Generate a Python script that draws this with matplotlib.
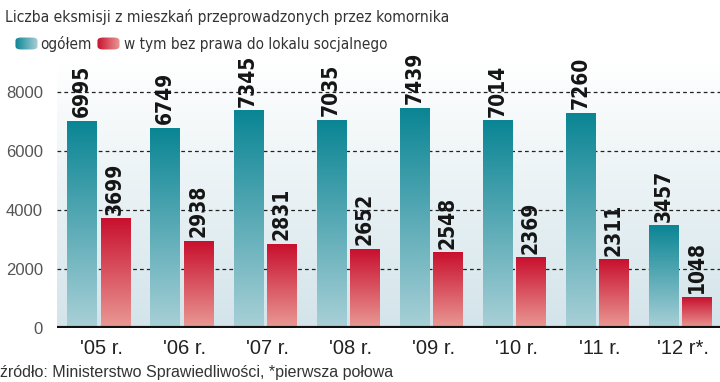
import numpy as np
import matplotlib.pyplot as plt
from matplotlib.patches import FancyBboxPatch
from matplotlib.colors import LinearSegmentedColormap

# Liczba eksmisji z mieszkań przeprowadzonych przez komornika
years = ["'05 r.", "'06 r.", "'07 r.", "'08 r.", "'09 r.", "'10 r.", "'11 r.", "'12 r*."]
ogolem = [6995, 6749, 7345, 7035, 7439, 7014, 7260, 3457]
bez_prawa = [3699, 2938, 2831, 2652, 2548, 2369, 2311, 1048]
yticks = [0, 2000, 4000, 6000, 8000]

teal_cmap = LinearSegmentedColormap.from_list("teal", ["#a9d0d7", "#0a8594"])
red_cmap = LinearSegmentedColormap.from_list("red", ["#ea9a95", "#c8102e"])
bg_cmap = LinearSegmentedColormap.from_list("bg", ["#d3e4ea", "#ffffff"])

plt.rcParams['font.family'] = ['Liberation Sans', 'DejaVu Sans']

fig = plt.figure(figsize=(7.2, 3.82), dpi=100)
ax = fig.add_axes([57 / 720, 1 - 328 / 382, 663 / 720, 266 / 382])

x = np.arange(len(years))
w = 0.35
ymax = 9000

# background gradient
grad = np.linspace(0, 1, 256).reshape(-1, 1)
ax.imshow(grad, extent=[-0.5, 7.48, 0, ymax], origin='lower', cmap=bg_cmap,
          aspect='auto', zorder=0)

bars1 = ax.bar(x - 0.2, ogolem, w, color='none', zorder=2)
bars2 = ax.bar(x + 0.2, bez_prawa, w, color='none', zorder=2)

for bars, cmap in [(bars1, teal_cmap), (bars2, red_cmap)]:
    for b in bars:
        x0, h = b.get_x(), b.get_height()
        ax.imshow(grad, extent=[x0, x0 + b.get_width(), 0, h], origin='lower',
                  cmap=cmap, aspect='auto', zorder=2)
        ax.annotate(f"{int(h)}", (x0 + b.get_width() / 2, h), xytext=(0, 3),
                    textcoords='offset points', rotation=90, ha='center',
                    va='bottom', fontsize=15, fontweight='bold', color='#151515',
                    family=['DejaVu Sans'], fontstretch='condensed')

for yv in yticks[1:]:
    ax.axhline(yv, color='#222222', lw=0.9, ls=(0, (3, 2.5)), zorder=1)
ax.axhline(0, color='#111111', lw=3, zorder=3)

ax.set_xlim(-0.5, 7.48)
ax.set_ylim(0, ymax)
ax.set_yticks(yticks)
ax.set_yticklabels([str(v) for v in yticks], fontsize=12, color='#555555')
ax.set_xticks(x + 0.03)
ax.set_xticklabels(years, fontsize=14.5, color='#222222')
ax.tick_params(length=0)
ax.tick_params(axis='y', pad=10)
ax.tick_params(axis='x', pad=8)
for s in ax.spines.values():
    s.set_visible(False)

cond = dict(family=['DejaVu Sans'], fontstretch='condensed', color='#333333', va='center')
fig.text(5 / 720, 1 - 17 / 382, "Liczba eksmisji z mieszkań przeprowadzonych przez komornika",
         fontsize=11.2, **cond)

# legend with gradient swatches
hgrad = np.linspace(0, 1, 256).reshape(1, -1)
for (sx, cmap) in [(15, teal_cmap.reversed()), (97, red_cmap.reversed())]:
    sax = fig.add_axes([sx / 720, 1 - 50 / 382, 23 / 720, 13 / 382])
    sax.set_xlim(0, 1)
    sax.set_ylim(0, 1)
    sax.axis('off')
    box = FancyBboxPatch((0.02, 0.04), 0.96, 0.92, boxstyle="round,pad=0,rounding_size=0.25",
                         transform=sax.transAxes, facecolor='none', edgecolor='none')
    sax.add_patch(box)
    im = sax.imshow(hgrad, extent=[0, 1, 0, 1], cmap=cmap, aspect='auto')
    im.set_clip_path(box)

fig.text(40 / 720, 1 - 44 / 382, "ogółem", fontsize=11, **cond)
fig.text(124 / 720, 1 - 44 / 382, "w tym bez prawa do lokalu socjalnego", fontsize=11, **cond)

fig.text(0, 1 - 372 / 382, "źródło: Ministerstwo Sprawiedliwości, *pierwsza połowa",
         fontsize=11.5, color='#333333', va='center')

fig.savefig("out.png", dpi=100)
